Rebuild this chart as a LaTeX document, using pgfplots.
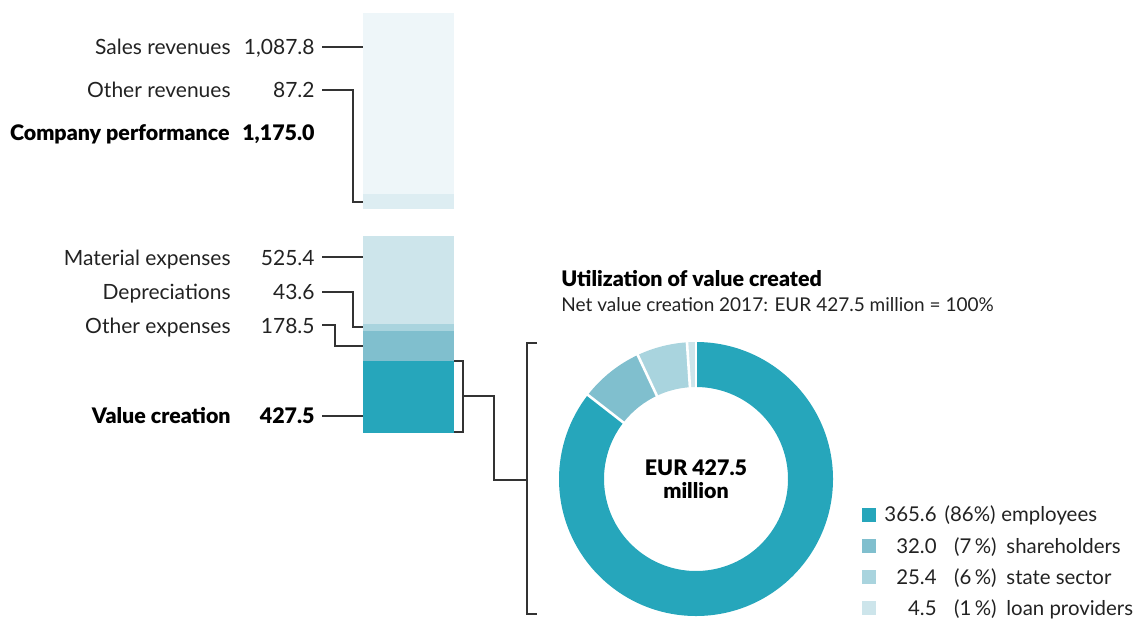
\documentclass[border=0pt]{standalone}
\usepackage{pgfplots}
\pgfplotsset{compat=1.18}
\usepackage{fontspec}
\setmainfont{Lato}[BoldFont={Lato Black}]
\definecolor{cSR}{HTML}{EEF6F9}
\definecolor{cOR}{HTML}{DDEDF2}
\definecolor{cME}{HTML}{CDE5EB}
\definecolor{cDE}{HTML}{A9D4DE}
\definecolor{cOE}{HTML}{80BFCE}
\definecolor{cVC}{HTML}{26A6BB}
\definecolor{txt}{HTML}{222222}
\definecolor{lnc}{HTML}{333333}
\newcommand{\lab}{\fontsize{10.5}{12}\selectfont}
\newcommand{\labb}{\fontsize{10.7}{12}\selectfont\bfseries}
\newcommand{\subf}{\fontsize{9.5}{11}\selectfont}
\newcommand{\legf}{\fontsize{10.2}{12}\selectfont}
\begin{document}
\begin{tikzpicture}
% donut values (EUR million)
\def\vA{365.6}\def\vB{32.0}\def\vC{25.4}\def\vD{4.5}
\pgfmathsetmacro\vT{\vA+\vB+\vC+\vD}
\pgfmathsetmacro\aA{90-360*(\vA/\vT)}
\pgfmathsetmacro\aB{\aA-360*(\vB/\vT)}
\pgfmathsetmacro\aC{\aB-360*(\vC/\vT)}
\pgfmathsetmacro\aD{\aC-360*(\vD/\vT)}
\def\Ro{68.5pt}\def\Ri{46pt}
\begin{axis}[name=main, at={(0,0)}, anchor=south west, scale only axis,
  width=571.5pt, height=309pt, xmin=0, xmax=1143, ymin=0, ymax=618,
  y dir=reverse, hide axis, clip=false]
\addplot[draw=none] coordinates {(0,0) (1143,618)};
% labels
\node[anchor=base east, inner sep=0, text=txt, font=\lab] at (axis cs:231,54) {Sales revenues};
\node[anchor=base east, inner sep=0, text=txt, font=\lab] at (axis cs:315,54) {1,087.8};
\node[anchor=base east, inner sep=0, text=txt, font=\lab] at (axis cs:231,97) {Other revenues};
\node[anchor=base east, inner sep=0, text=txt, font=\lab] at (axis cs:315,97) {87.2};
\node[anchor=base east, inner sep=0, text=black, font=\labb] at (axis cs:230,140) {Company performance};
\node[anchor=base east, inner sep=0, text=black, font=\labb] at (axis cs:315,140) {1,175.0};
\node[anchor=base east, inner sep=0, text=txt, font=\lab] at (axis cs:231,265) {Material expenses};
\node[anchor=base east, inner sep=0, text=txt, font=\lab] at (axis cs:315,265) {525.4};
\node[anchor=base east, inner sep=0, text=txt, font=\lab] at (axis cs:231,299) {Depreciations};
\node[anchor=base east, inner sep=0, text=txt, font=\lab] at (axis cs:315,299) {43.6};
\node[anchor=base east, inner sep=0, text=txt, font=\lab] at (axis cs:231,333) {Other expenses};
\node[anchor=base east, inner sep=0, text=txt, font=\lab] at (axis cs:315,333) {178.5};
\node[anchor=base east, inner sep=0, text=black, font=\labb] at (axis cs:231,423) {Value creation};
\node[anchor=base east, inner sep=0, text=black, font=\labb] at (axis cs:315,423) {427.5};
% leader lines
\draw[lnc, line width=0.6pt] (axis cs:322,47) -- (axis cs:363,47);
\draw[lnc, line width=0.6pt] (axis cs:322,90) -- (axis cs:353,90) -- (axis cs:353,202) -- (axis cs:363,202);
\draw[lnc, line width=0.6pt] (axis cs:322,257) -- (axis cs:363,257);
\draw[lnc, line width=0.6pt] (axis cs:322,292) -- (axis cs:353,292) -- (axis cs:353,327) -- (axis cs:363,327);
\draw[lnc, line width=0.6pt] (axis cs:322,325) -- (axis cs:335,325) -- (axis cs:335,346) -- (axis cs:363,346);
\draw[lnc, line width=0.6pt] (axis cs:322,416) -- (axis cs:363,416);
\draw[lnc, line width=0.6pt] (axis cs:454,361) -- (axis cs:463,361) -- (axis cs:463,432) -- (axis cs:454,432);
\draw[lnc, line width=0.6pt] (axis cs:463,396) -- (axis cs:494,396) -- (axis cs:494,480) -- (axis cs:527,480);
\draw[lnc, line width=0.6pt] (axis cs:537,343) -- (axis cs:527,343) -- (axis cs:527,614) -- (axis cs:537,614);
% titles
\node[anchor=base west, inner sep=0, text=black, font=\labb] at (axis cs:561,286) {Utilization of value created};
\node[anchor=base west, inner sep=0, text=txt, font=\subf] at (axis cs:561,311) {Net value creation 2017: EUR 427.5 million = 100\%};
\coordinate (C) at (axis cs:696,479);
\node[anchor=base, inner sep=0, text=black, font=\labb] at (axis cs:696,475) {EUR 427.5};
\node[anchor=base, inner sep=0, text=black, font=\labb] at (axis cs:696,498) {million};
% legend
\fill[cVC] (axis cs:862,508) rectangle (axis cs:876,522);
\fill[cOE] (axis cs:862,539) rectangle (axis cs:876,553);
\fill[cDE] (axis cs:862,570) rectangle (axis cs:876,584);
\fill[cME] (axis cs:862,601) rectangle (axis cs:876,615);
\node[anchor=base east, inner sep=0, text=txt, font=\legf] at (axis cs:937,521) {365.6};
\node[anchor=base east, inner sep=0, text=txt, font=\legf] at (axis cs:937,553) {32.0};
\node[anchor=base east, inner sep=0, text=txt, font=\legf] at (axis cs:937,584) {25.4};
\node[anchor=base east, inner sep=0, text=txt, font=\legf] at (axis cs:937,615) {4.5};
\node[anchor=base east, inner sep=0, text=txt, font=\legf] at (axis cs:996,521) {(86\%)};
\node[anchor=base east, inner sep=0, text=txt, font=\legf] at (axis cs:997,553) {(7\,\%)};
\node[anchor=base east, inner sep=0, text=txt, font=\legf] at (axis cs:997,584) {(6\,\%)};
\node[anchor=base east, inner sep=0, text=txt, font=\legf] at (axis cs:997,615) {(1\,\%)};
\node[anchor=base west, inner sep=0, text=txt, font=\legf] at (axis cs:1001,521) {employees};
\node[anchor=base west, inner sep=0, text=txt, font=\legf] at (axis cs:1006,553) {shareholders};
\node[anchor=base west, inner sep=0, text=txt, font=\legf] at (axis cs:1006,584) {state sector};
\node[anchor=base west, inner sep=0, text=txt, font=\legf] at (axis cs:1006,615) {loan providers};
\end{axis}
% donut (angles from the values above)
\fill[cVC] ([shift={(90:\Ro)}]C) arc[start angle=90, end angle=\aA, radius=\Ro] -- ([shift={(\aA:\Ri)}]C) arc[start angle=\aA, end angle=90, radius=\Ri] -- cycle;
\fill[cOE] ([shift={(\aA:\Ro)}]C) arc[start angle=\aA, end angle=\aB, radius=\Ro] -- ([shift={(\aB:\Ri)}]C) arc[start angle=\aB, end angle=\aA, radius=\Ri] -- cycle;
\fill[cDE] ([shift={(\aB:\Ro)}]C) arc[start angle=\aB, end angle=\aC, radius=\Ro] -- ([shift={(\aC:\Ri)}]C) arc[start angle=\aC, end angle=\aB, radius=\Ri] -- cycle;
\fill[cME] ([shift={(\aC:\Ro)}]C) arc[start angle=\aC, end angle=\aD, radius=\Ro] -- ([shift={(\aD:\Ri)}]C) arc[start angle=\aD, end angle=\aC, radius=\Ri] -- cycle;
\foreach \a in {\aA,\aB,\aC,90} {
  \draw[white, line width=1.3pt] ([shift={(\a:45pt)}]C) -- ([shift={(\a:69.5pt)}]C);
}
% top stacked bar: company performance
\begin{axis}[at={(181.5pt,204.5pt)}, anchor=south west, scale only axis,
  width=45.5pt, height=98pt, xmin=-0.5, xmax=0.5, ymin=0, ymax=1175,
  hide axis, ybar stacked, bar width=45.5pt, clip=false]
\addplot[fill=cOR, draw=none] coordinates {(0,87.2)};
\addplot[fill=cSR, draw=none] coordinates {(0,1087.8)};
\end{axis}
% bottom stacked bar: expenses and value creation
\begin{axis}[at={(181.5pt,92.5pt)}, anchor=south west, scale only axis,
  width=45.5pt, height=98.5pt, xmin=-0.5, xmax=0.5, ymin=0, ymax=1175,
  hide axis, ybar stacked, bar width=45.5pt, clip=false]
\addplot[fill=cVC, draw=none] coordinates {(0,427.5)};
\addplot[fill=cOE, draw=none] coordinates {(0,178.5)};
\addplot[fill=cDE, draw=none] coordinates {(0,43.6)};
\addplot[fill=cME, draw=none] coordinates {(0,525.4)};
\end{axis}
\pgfresetboundingbox
\path (0,0) rectangle (571.5pt,309pt);
\end{tikzpicture}
\end{document}
